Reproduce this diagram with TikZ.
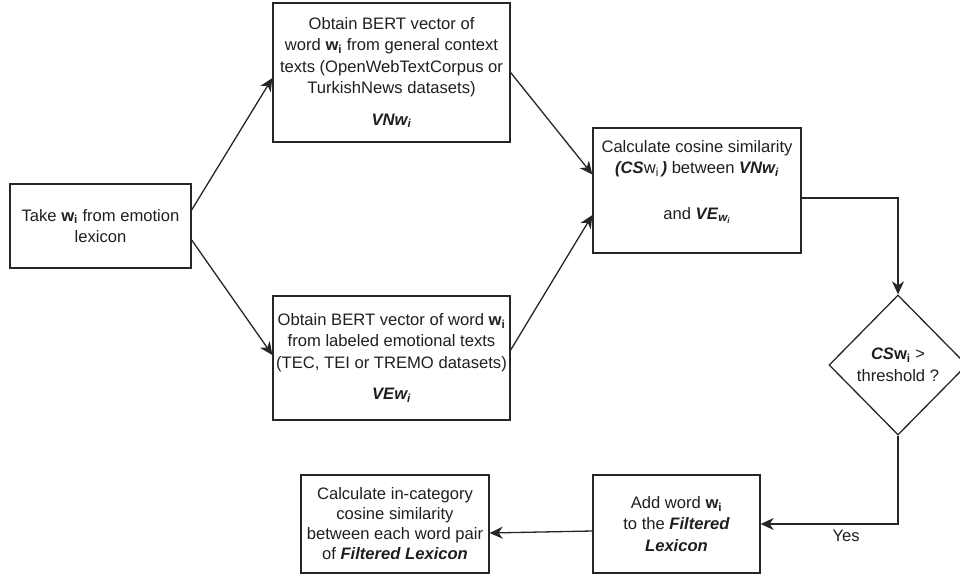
\documentclass[tikz,border=0pt]{standalone}
\usepackage{fontspec}
\setmainfont{Liberation Sans}
\usetikzlibrary{shapes.geometric,arrows.meta}

\newcommand{\bi}[1]{\textbf{\textit{#1}}}
\newcommand{\wi}{\textbf{w\textsubscript{i}}}

\begin{document}
\begin{tikzpicture}[x=1pt,y=-1pt,
  every node/.style={font=\fontsize{16.6}{21.5}\selectfont, text=black!88},
  stepbox/.style={draw=black!85, line width=1.3pt, rectangle, inner sep=0pt, align=center},
  decision/.style={draw=black!85, line width=1.3pt, diamond, inner sep=0pt, align=center,
                   minimum width=138pt, minimum height=140pt},
  flow/.style={draw=black!85, line width=1.3pt, -{Stealth[length=13pt,width=12pt,inset=4pt]}},
  link/.style={draw=black!85, line width=1.3pt}
]
\useasboundingbox (0,0) rectangle (960,576);

% process steps
\node[stepbox, minimum width=181pt, minimum height=84pt] (take) at (100.5,226)
  {Take \wi{} from emotion\\lexicon};

\node[stepbox, minimum width=237pt, minimum height=139pt] (vn) at (391.5,72.5)
  {Obtain BERT vector of\\word \wi{} from general context\\texts (OpenWebTextCorpus or\\TurkishNews datasets)\\[10pt]\bi{VNw\textsubscript{i}}};

\node[stepbox, minimum width=237pt, minimum height=124pt] (ve) at (391.5,358)
  {Obtain BERT vector of word \wi\\from labeled emotional texts\\(TEC, TEI or TREMO datasets)\\[10pt]\bi{VEw\textsubscript{i}}};

\node[stepbox, minimum width=208pt, minimum height=125pt] (cs) at (697,190.5)
  {Calculate cosine similarity\\\bi{(CS}w\textsubscript{i}\,\bi{)} between \bi{VNw\textsubscript{i}}\\[24pt]and \bi{VE}\textsubscript{\bi{w\textsubscript{i}}}\\\mbox{}};

\node[decision] (dia) at (898,365)
  {\bi{CS}\wi{} >\\threshold ?};

\node[stepbox, minimum width=167pt, minimum height=98pt] (add) at (676.5,524)
  {Add word \wi\\to the \bi{Filtered}\\\bi{Lexicon}};

\node[stepbox, minimum width=188pt, minimum height=98pt,
      font=\fontsize{16.6}{20}\selectfont] (calc) at (395,524)
  {Calculate in-category\\cosine similarity\\between each word pair\\of \bi{Filtered Lexicon}};

% connectors
\draw[flow] ([yshift=16pt]take.east) -- ([yshift=-5.5pt]vn.west);
\draw[flow] ([yshift=-14pt]take.east) -- ([yshift=3pt]ve.west);
\draw[flow] (vn.east) -- ([yshift=16pt]cs.west);
\draw[flow] ([yshift=8pt]ve.east) -- ([yshift=-24.5pt]cs.west);
\draw[flow] ([yshift=-7.5pt]cs.east) -| (dia.north);
\draw[flow] (dia.south) |- (add.east);
\node[anchor=west] (yes) at (829,536) {Yes};
\draw[flow] ([yshift=-7pt]add.west) -- ([yshift=-9pt]calc.east);
\end{tikzpicture}
\end{document}
